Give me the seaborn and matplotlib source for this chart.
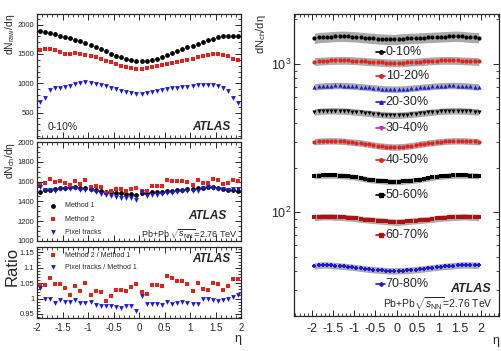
import numpy as np
import matplotlib
matplotlib.use("Agg")
import matplotlib.pyplot as plt
import matplotlib.transforms as mtrans
from matplotlib.ticker import MultipleLocator, FixedLocator, NullFormatter, LogLocator, FuncFormatter
import seaborn as sns

# ---- data ----
eta = [-1.95, -1.85, -1.75, -1.65, -1.55, -1.45, -1.35, -1.25, -1.15, -1.05,
       -0.95, -0.85, -0.75, -0.65, -0.55, -0.45, -0.35, -0.25, -0.15, -0.05,
       0.05, 0.15, 0.25, 0.35, 0.45, 0.55, 0.65, 0.75, 0.85, 0.95,
       1.05, 1.15, 1.25, 1.35, 1.45, 1.55, 1.65, 1.75, 1.85, 1.95]

# top panel: dNraw/deta, 0-10%
raw_m1 = [1900, 1880, 1865, 1840, 1810, 1785, 1765, 1745, 1720, 1690,
          1655, 1620, 1580, 1545, 1505, 1470, 1440, 1410, 1390, 1375,
          1372, 1378, 1395, 1420, 1450, 1480, 1515, 1550, 1580, 1610,
          1640, 1670, 1700, 1730, 1760, 1785, 1805, 1810, 1800, 1805]
raw_m2 = [1570, 1590, 1580, 1560, 1530, 1505, 1500, 1510, 1505, 1490,
          1470, 1445, 1415, 1385, 1355, 1320, 1295, 1275, 1255, 1240,
          1240, 1255, 1270, 1290, 1310, 1330, 1350, 1370, 1385, 1400,
          1420, 1440, 1465, 1490, 1505, 1505, 1490, 1460, 1420, 1400]
raw_pix = [680, 750, 890, 910, 920, 935, 955, 985, 1010, 1025,
           1010, 995, 975, 950, 925, 895, 870, 845, 825, 810,
           810, 825, 850, 870, 890, 905, 910, 920, 930, 940,
           955, 965, 975, 975, 965, 950, 925, 870, 740, 670]

# middle panel: dNch/deta, 0-10%
ch_m1 = [1495, 1515, 1520, 1525, 1535, 1540, 1545, 1545, 1540, 1535,
         1530, 1520, 1510, 1500, 1495, 1485, 1480, 1475, 1470, 1468,
         1480, 1485, 1490, 1495, 1500, 1505, 1510, 1515, 1520, 1525,
         1530, 1535, 1540, 1545, 1545, 1540, 1530, 1520, 1515, 1510]
ch_m2 = [1562, 1582, 1622, 1598, 1609, 1591, 1565, 1607, 1579, 1612,
         1550, 1555, 1543, 1487, 1507, 1527, 1521, 1509, 1524, 1537,
         1510, 1507, 1554, 1559, 1560, 1613, 1610, 1603, 1608, 1597,
         1568, 1612, 1586, 1588, 1622, 1612, 1573, 1584, 1612, 1607]
ch_pix = [1544, 1515, 1520, 1505, 1527, 1525, 1530, 1537, 1518, 1515,
          1512, 1490, 1475, 1463, 1458, 1446, 1436, 1438, 1436, 1409,
          1492, 1458, 1466, 1468, 1470, 1487, 1483, 1495, 1502, 1505,
          1506, 1510, 1537, 1542, 1537, 1529, 1522, 1515, 1523, 1525]

# bottom panel: ratios
ratio_m2 = [1.045, 1.044, 1.067, 1.048, 1.048, 1.033, 1.013, 1.040, 1.025, 1.050,
            1.013, 1.023, 1.022, 0.991, 1.008, 1.028, 1.028, 1.023, 1.037, 1.047,
            1.020, 1.015, 1.043, 1.043, 1.040, 1.072, 1.066, 1.058, 1.058, 1.047,
            1.025, 1.050, 1.030, 1.028, 1.050, 1.047, 1.028, 1.042, 1.064, 1.064]
ratio_pix = [1.033, 1.000, 1.000, 0.987, 0.995, 0.990, 0.990, 0.995, 0.986, 0.987,
             0.988, 0.980, 0.977, 0.975, 0.975, 0.974, 0.970, 0.975, 0.977, 0.960,
             1.008, 0.982, 0.984, 0.982, 0.980, 0.988, 0.982, 0.987, 0.988, 0.987,
             0.984, 0.984, 0.998, 0.998, 0.995, 0.993, 0.995, 0.997, 1.005, 1.010]

# right panel: dNch/deta per centrality class
cent_labels = ["0-10%", "10-20%", "20-30%", "30-40%", "40-50%", "50-60%", "60-70%", "70-80%"]
c10_20 = [1040, 1048, 1052, 1055, 1058, 1060, 1062, 1062, 1060, 1057,
          1054, 1050, 1045, 1040, 1036, 1032, 1028, 1025, 1022, 1020,
          1022, 1025, 1028, 1032, 1036, 1040, 1045, 1050, 1054, 1057,
          1060, 1062, 1062, 1060, 1058, 1055, 1052, 1050, 1046, 1042]
c20_30 = [702, 708, 712, 715, 717, 718, 718, 717, 715, 712,
          708, 704, 700, 696, 692, 688, 684, 681, 679, 678,
          679, 681, 684, 688, 692, 696, 700, 704, 708, 712,
          715, 717, 718, 718, 717, 715, 712, 708, 705, 702]
c30_40 = [476, 480, 483, 484, 485, 485, 484, 483, 481, 478,
          475, 472, 469, 466, 463, 460, 457, 455, 453, 452,
          453, 455, 457, 460, 463, 466, 469, 472, 475, 478,
          481, 483, 484, 485, 485, 484, 483, 480, 478, 476]
c40_50 = [300, 302, 303, 304, 304, 304, 303, 302, 300, 298,
          296, 294, 291, 288, 285, 282, 280, 278, 277, 276,
          277, 278, 280, 282, 285, 288, 291, 294, 296, 298,
          300, 302, 303, 304, 304, 304, 303, 302, 301, 300]
c50_60 = [176, 177, 178, 178, 178, 178, 177, 176, 175, 174,
          172, 170, 168, 166, 165, 164, 163, 162, 161, 161,
          161, 162, 163, 164, 165, 166, 168, 170, 172, 174,
          175, 176, 177, 178, 178, 178, 178, 177, 177, 176]
c60_70 = [92.5, 93, 93.5, 93.5, 93.5, 93, 93, 92.5, 92, 91.5,
          91, 90, 89.5, 89, 88.5, 88, 87.5, 87, 86.5, 86,
          86, 86.5, 87, 87.5, 88, 88.5, 89, 89.5, 90, 91,
          91.5, 92, 92.5, 93, 93, 93.5, 93.5, 93, 93, 92.5]
c70_80 = [43.5, 44, 44.2, 44.2, 44, 43.8, 43.5, 43.3, 43, 42.7,
          42.4, 42, 41.7, 41.4, 41.1, 40.9, 40.7, 40.5, 40.4, 40.3,
          40.4, 40.5, 40.7, 40.9, 41.1, 41.4, 41.7, 42, 42.4, 42.7,
          43, 43.3, 43.5, 43.8, 44, 44.2, 44.3, 44.2, 44, 44.2]
cent_values = [ch_m1, c10_20, c20_30, c30_40, c40_50, c50_60, c60_70, c70_80]
sys_frac = [0.08, 0.06, 0.05, 0.05, 0.05, 0.045, 0.05, 0.05]

# ---- style ----
sns.set_style("ticks")
plt.rcParams["font.family"] = ["Liberation Sans", "DejaVu Sans"]
plt.rcParams["mathtext.fontset"] = "custom"
plt.rcParams["mathtext.rm"] = "Liberation Sans"
plt.rcParams["mathtext.it"] = "Liberation Sans:italic"
plt.rcParams["mathtext.bf"] = "Liberation Sans:bold"
plt.rcParams["axes.linewidth"] = 0.9

fig = plt.figure(figsize=(5.01, 3.51), dpi=100)
ax1 = fig.add_axes([0.0739, 0.606, 0.4072, 0.3555])
ax2 = fig.add_axes([0.0739, 0.3142, 0.4072, 0.2804])
ax3 = fig.add_axes([0.0739, 0.0949, 0.4072, 0.2021])
axr = fig.add_axes([0.587, 0.0997, 0.409, 0.8606])

def root_ticks(ax, size=5.5):
    ax.tick_params(which="both", direction="in", top=True, right=True,
                   labelsize=size, pad=2)
    ax.tick_params(which="major", length=4, width=0.7)
    ax.tick_params(which="minor", length=2, width=0.6)

ms = 12
# top panel
sns.scatterplot(x=eta, y=raw_m1, ax=ax1, color="black", marker="o", s=ms, linewidth=0)
sns.scatterplot(x=eta, y=raw_m2, ax=ax1, color="#e8201c", marker="s", s=ms * 0.8, linewidth=0)
sns.scatterplot(x=eta, y=raw_pix, ax=ax1, color="#1a1adb", marker="v", s=ms, linewidth=0)
ax1.set_xlim(-2, 2)
ax1.set_ylim(60, 2190)
ax1.yaxis.set_major_locator(MultipleLocator(500))
ax1.yaxis.set_minor_locator(MultipleLocator(100))
ax1.xaxis.set_major_locator(MultipleLocator(0.5))
ax1.xaxis.set_minor_locator(MultipleLocator(0.1))
ax1.xaxis.set_major_formatter(NullFormatter())
root_ticks(ax1)
ax1.set_ylabel(r"dN$_{\rm raw}$/dη", loc="top", fontsize=7.5, labelpad=0.5)
ax1.text(0.05, 0.07, "0-10%", transform=ax1.transAxes, fontsize=7.5)
ax1.text(0.95, 0.07, "ATLAS", transform=ax1.transAxes, fontsize=8.5,
         fontweight="bold", fontstyle="italic", ha="right")

# middle panel
sns.scatterplot(x=eta, y=ch_m1, ax=ax2, color="black", marker="o", s=ms, linewidth=0, label="Method 1")
sns.scatterplot(x=eta, y=ch_m2, ax=ax2, color="#e8201c", marker="s", s=ms * 0.8, linewidth=0, label="Method 2")
sns.scatterplot(x=eta, y=ch_pix, ax=ax2, color="#1a1adb", marker="v", s=ms, linewidth=0, label="Pixel tracks")
ax2.set_xlim(-2, 2)
ax2.set_ylim(1000, 2000)
ax2.yaxis.set_minor_locator(MultipleLocator(50))
ax2.xaxis.set_major_locator(MultipleLocator(0.5))
ax2.xaxis.set_minor_locator(MultipleLocator(0.1))
ax2.xaxis.set_major_formatter(NullFormatter())
ax2.set_yticks([1000, 1200, 1400, 1600, 1800, 2000])
ax2.set_yticklabels(["1000", "1200", "1400", "1600", "1800", "2000"])
root_ticks(ax2)
ax2.set_ylabel(r"dN$_{\rm ch}$/dη", loc="top", fontsize=7.5, labelpad=0.5)
ax2.legend(loc="lower left", frameon=False, fontsize=5, handletextpad=0.8,
           borderaxespad=0.3, labelspacing=0.9, bbox_to_anchor=(0.02, 0.0))
ax2.text(0.93, 0.22, "ATLAS", transform=ax2.transAxes, fontsize=8.5,
         fontweight="bold", fontstyle="italic", ha="right")
ax2.text(0.985, 0.03, r"Pb+Pb $\sqrt{s_{\rm NN}}$=2.76 TeV", transform=ax2.transAxes,
         fontsize=6.5, ha="right")

# bottom panel
sns.scatterplot(x=eta, y=ratio_m2, ax=ax3, color="#e8201c", marker="s", s=ms, linewidth=0,
                label="Method 2 / Method 1")
sns.scatterplot(x=eta, y=ratio_pix, ax=ax3, color="#1a1adb", marker="v", s=ms, linewidth=0,
                label="Pixel tracks / Method 1")
ax3.set_xlim(-2, 2)
ax3.set_ylim(0.938, 1.168)
ax3.set_yticks([0.95, 1.0, 1.05, 1.1, 1.15])
ax3.set_yticklabels(["0.95", "1", "1.05", "1.1", "1.15"])
ax3.yaxis.set_minor_locator(MultipleLocator(0.01))
ax3.xaxis.set_minor_locator(MultipleLocator(0.1))
ax3.set_xticks([-2, -1.5, -1, -0.5, 0, 0.5, 1, 1.5, 2])
ax3.set_xticklabels(["-2", "-1.5", "-1", "-0.5", "0", "0.5", "1", "1.5", "2"])
root_ticks(ax3)
ax3.tick_params(axis="x", labelsize=7, pad=4)
ax3.set_ylabel("Ratio", loc="top", fontsize=12, labelpad=0)
ax3.legend(loc="upper left", frameon=False, fontsize=5, handletextpad=0.8,
           borderaxespad=0.3, labelspacing=0.8, bbox_to_anchor=(0.02, 1.0))
ax3.text(0.95, 0.78, "ATLAS", transform=ax3.transAxes, fontsize=8.5,
         fontweight="bold", fontstyle="italic", ha="right")
ax3.set_xlabel("η", loc="right", fontsize=9, labelpad=0)

# right panel
styles = [("black", "o", "black"), ("#e8201c", "o", "#e8201c"), ("#1a1adb", "^", "#1a1adb"),
          ("black", "v", "#cc22cc"), ("#e8201c", "o", "#e8201c"), ("black", "s", "black"),
          ("#b01010", "s", "#b01010"), ("#1a1adb", "P", "#1a1adb")]
line_tr = mtrans.blended_transform_factory(axr.transAxes, axr.transData)
for vals, frac, lab, (col, mk, lcol) in zip(cent_values, sys_frac, cent_labels, styles):
    v = np.array(vals, dtype=float)
    axr.fill_between(eta, v * (1 - frac), v * (1 + frac), color="#8c8c8c", alpha=0.75,
                     linewidth=0, zorder=1)
    sns.scatterplot(x=eta, y=vals, ax=axr, color=col, marker=mk, s=9, linewidth=0, zorder=3)
    ly = v.min() / 1.22
    axr.plot([0.40, 0.445], [ly, ly], color=lcol, lw=1.2, transform=line_tr)
    axr.plot([0.4225], [ly], color=lcol, marker=mk, ms=2.5, transform=line_tr)
    axr.text(0.447, ly, lab, transform=line_tr, fontsize=9, va="center", ha="left")
axr.set_yscale("log")
axr.set_xlim(-2.43, 2.43)
axr.set_ylim(20, 2180)
axr.xaxis.set_minor_locator(MultipleLocator(0.1))
axr.set_xticks([-2, -1.5, -1, -0.5, 0, 0.5, 1, 1.5, 2])
axr.set_xticklabels(["-2", "-1.5", "-1", "-0.5", "0", "0.5", "1", "1.5", "2"])
axr.yaxis.set_major_locator(LogLocator(base=10))
axr.yaxis.set_minor_locator(LogLocator(base=10, subs=np.arange(2, 10)))
axr.yaxis.set_minor_formatter(NullFormatter())
root_ticks(axr, size=9)
axr.tick_params(axis="x", pad=5)
axr.set_ylabel(r"dN$_{\rm ch}$/dη", loc="top", fontsize=8, labelpad=2)
axr.set_xlabel("η", loc="right", fontsize=9, labelpad=0)
axr.text(0.96, 0.08, "ATLAS", transform=axr.transAxes, fontsize=9,
         fontweight="bold", fontstyle="italic", ha="right")
axr.text(0.97, 0.025, r"Pb+Pb$\sqrt{s_{\rm NN}}$=2.76 TeV", transform=axr.transAxes,
         fontsize=7.5, ha="right")

fig.savefig("out.png", dpi=100)
